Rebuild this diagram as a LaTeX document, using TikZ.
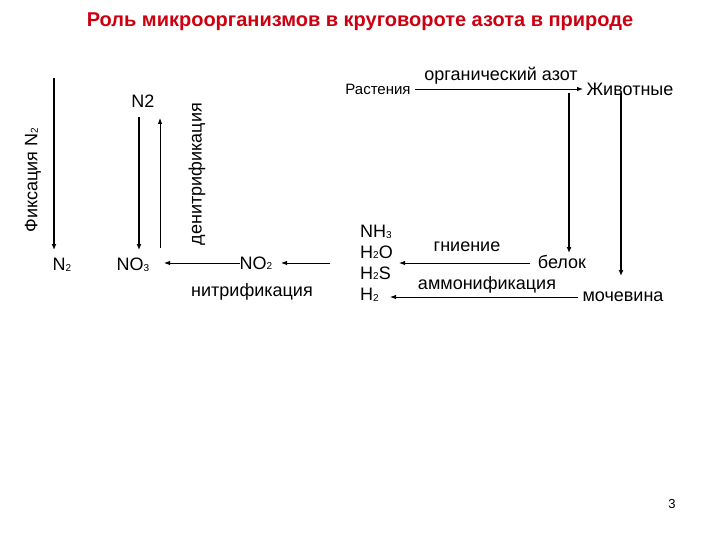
\documentclass[tikz,border=0pt]{standalone}
\usepackage{fontspec}
\setmainfont{Liberation Sans}
\usetikzlibrary{arrows.meta}
\definecolor{titlered}{RGB}{204,0,17}
\newcommand\sbs[1]{\raisebox{-0.5pt}{\fontsize{10}{10}\selectfont #1}}
\begin{document}
\begin{tikzpicture}[x=1pt,y=-1pt,
  lbl/.style={inner sep=0pt,font=\fontsize{18}{18}\selectfont},
  sml/.style={inner sep=0pt,font=\fontsize{15}{15}\selectfont},
  arr/.style={-{Latex[length=6pt,width=4.5pt]},line width=0.9pt},
  thk/.style={-{Latex[length=6pt,width=5pt]},line width=2pt}]
\useasboundingbox (0,0) rectangle (720,540);
\node[inner sep=0pt,font=\bfseries\fontsize{20}{20}\selectfont,text=titlered] (title) at (360,22) {Роль микроорганизмов в круговороте азота в природе};
% left part
\node[lbl,rotate=90] (fix) at (33,180) {Фиксация N\sbs{2}};
\coordinate (fixtop) at (54,78);
\coordinate (fixbot) at (54,250);
\node[lbl] (n2a) at (62,265) {N\sbs{2}};
\draw[thk] (fixtop) -- (fixbot);
\node[lbl] (n2b) at (143,101) {N2};
\node[lbl] (no3) at (133,265) {NO\sbs{3}};
\coordinate (d1) at (139,117);
\coordinate (d2) at (139,250);
\draw[thk] (d1) -- (d2);
\coordinate (u1) at (160,248);
\coordinate (u2) at (160,118);
\draw[arr] (u1) -- (u2);
\node[lbl,rotate=90] (den) at (197,174) {денитрификация};
\node[lbl] (no2) at (256,263) {NO\sbs{2}};
\coordinate (no3r) at (164,263);
\draw[arr] (no2.west) -- (no3r);
\coordinate (h2sl) at (330,263);
\coordinate (no2r) at (281,263);
\draw[arr] (h2sl) -- (no2r);
\node[lbl] (nitr) at (252,292) {нитрификация};
% right part
\node[sml] (rast) at (378,89) {Растения};
\node[lbl] (anim) at (630,89) {Животные};
\node[lbl] (org) at (501,76) {органический азот};
\coordinate (orgend) at (583,89);
\draw[arr] (rast.east) ++(4,0) -- (orgend);
\coordinate (v1a) at (569,93);
\coordinate (v1b) at (569,253);
\draw[thk] (v1a) -- (v1b);
\coordinate (v2a) at (621,93);
\coordinate (v2b) at (621,276);
\draw[thk] (v2a) -- (v2b);
\node[lbl] (bel) at (562,262) {белок};
\node[lbl] (moch) at (623,297) {мочевина};
\node[lbl] (gn) at (467,247) {гниение};
\node[lbl] (amm) at (487,285) {аммонификация};
\coordinate (g1) at (530,263);
\coordinate (g2) at (399,263);
\draw[arr] (g1) -- (g2);
\coordinate (a1) at (578,297);
\coordinate (a2) at (390,297);
\draw[arr] (a1) -- (a2);
\node[lbl,anchor=west] (nh3) at (360,232) {NH\sbs{3}};
\node[lbl,anchor=west] (h2o) at (360,252) {H\sbs{2}O};
\node[lbl,anchor=west] (h2s) at (360,273) {H\sbs{2}S};
\node[lbl,anchor=west] (h2) at (360,295) {H\sbs{2}};
\node[inner sep=0pt,font=\fontsize{13}{13}\selectfont] (pg) at (672,504) {3};
\end{tikzpicture}
\end{document}
